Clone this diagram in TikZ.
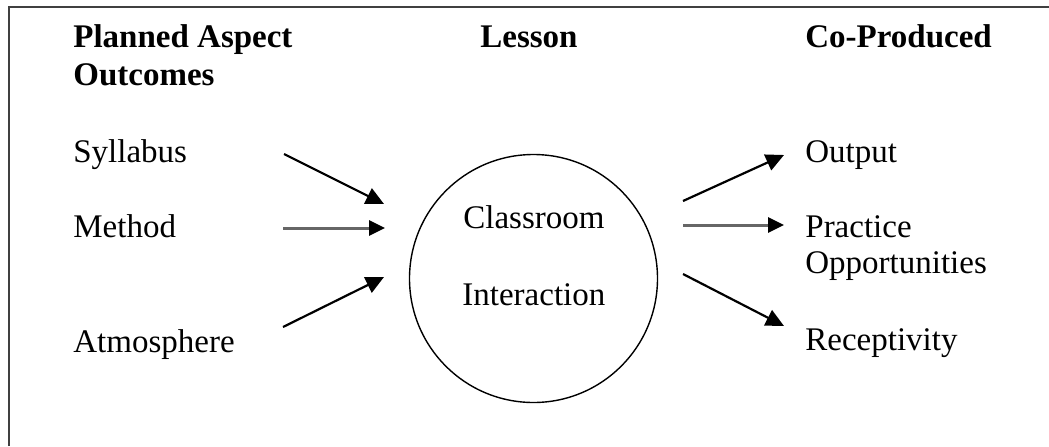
\documentclass[tikz,border=0pt]{standalone}
\usepackage{fontspec}
\setmainfont{Liberation Serif}
\usetikzlibrary{arrows.meta}
\tikzset{
  lbl/.style={anchor=base west, inner sep=0pt, align=left, font=\fontsize{16.5}{18}\selectfont},
  hdr/.style={lbl, font=\fontsize{16.5}{19}\selectfont\bfseries},
  arr/.style={line width=1.1pt, -{Triangle[length=9pt, width=8.5pt]}},
  garr/.style={line width=1.5pt, draw=black!60, -{Triangle[length=8pt, width=7.5pt, color=black, fill=black]}},
  frame/.style={line width=1pt, draw=black!75}
}
\begin{document}
\begin{tikzpicture}[x=0.5pt,y=-0.5pt]
\useasboundingbox (0,0) rectangle (1049,446);
\draw[frame] (9,446) -- (9,7) -- (1049,7);
% headings (base anchor = baseline of last line)
\node[hdr] (h1) at (73,85) {Planned Aspect\\Outcomes};
\node[hdr] (h2) at (480,47) {Lesson};
\node[hdr] (h3) at (805,47) {Co-Produced};
% inputs
\node[lbl] (syl) at (73,162) {Syllabus};
\node[lbl] (met) at (73,237) {Method};
\node[lbl] (atm) at (73,352) {Atmosphere};
% circle
\node[draw, circle, line width=0.7pt, minimum size=124pt, inner sep=0pt] (cir) at (533.5,278.5) {};
\node[lbl] (cl1) at (463,228) {Classroom};
\node[lbl] (cl2) at (462,305) {Interaction};
% outputs
\node[lbl] (out) at (805,162) {Output};
\node[lbl] (pra) at (805,273) {Practice\\Opportunities};
\node[lbl] (rec) at (805,350) {Receptivity};
% arrow endpoints
\coordinate (a1s) at (284,154); \coordinate (a1e) at (384,204);
\coordinate (a2s) at (283,228); \coordinate (a2e) at (385,228);
\coordinate (a3s) at (283,327); \coordinate (a3e) at (384,277);
\coordinate (b1s) at (683,201); \coordinate (b1e) at (784,155);
\coordinate (b2s) at (683,225); \coordinate (b2e) at (784,225);
\coordinate (b3s) at (683,274); \coordinate (b3e) at (784,326);
\draw[arr] (a1s) -- (a1e);
\draw[garr] (a2s) -- (a2e);
\draw[arr] (a3s) -- (a3e);
\draw[arr] (b1s) -- (b1e);
\draw[garr] (b2s) -- (b2e);
\draw[arr] (b3s) -- (b3e);
\end{tikzpicture}
\end{document}
